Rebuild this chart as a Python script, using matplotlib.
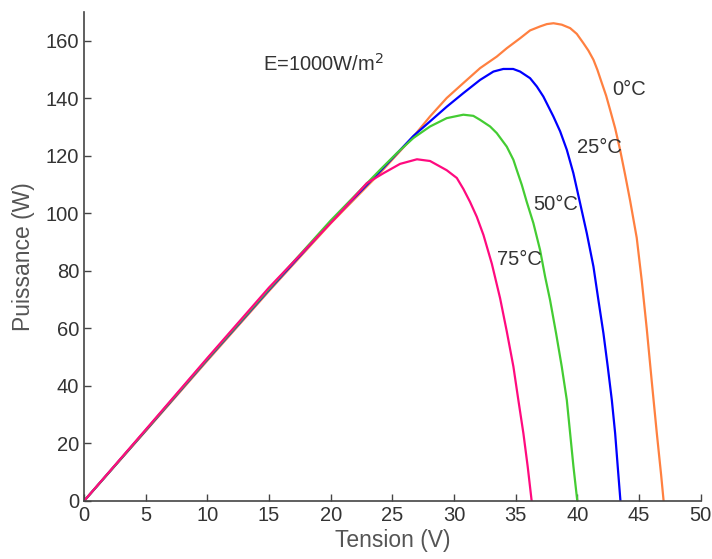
import matplotlib
matplotlib.use('Agg')
import matplotlib.pyplot as plt

# P-V curves of the PV module, E = 1000 W/m2, four cell temperatures
v_0 = [0, 5, 10, 15, 20, 24, 26.71, 28.06, 29.41, 30.76, 32.12, 33.47, 34.28, 35.37,
       36.17, 36.99, 37.53, 38.07, 38.74, 39.42, 39.96, 40.49, 40.90, 41.31, 41.63,
       41.99, 42.34, 42.66, 43.07, 43.47, 43.88, 44.28, 44.55, 44.82, 45.23, 45.63,
       46.04, 46.45, 46.80, 47.0]
p_0 = [0, 24.3, 48.8, 73.0, 96.5, 114.0, 126.7, 133.7, 140.1, 145.3, 150.5, 154.5, 157.4, 160.9,
       163.6, 165.0, 165.8, 166.1, 165.6, 164.4, 162.4, 159.2, 156.6, 153.4, 149.9,
       145.3, 140.9, 136.0, 129.6, 122.1, 113.4, 104.5, 98.0, 91.5, 76.5, 60.0,
       41.5, 23.5, 9.0, 0]

v_25 = [0, 5, 10, 15, 20, 24, 26.71, 29.42, 30.76, 32.12, 33.2, 34.0, 34.8, 35.36,
        36.17, 36.72, 37.25, 38.06, 38.61, 39.15, 39.68, 40.23, 40.77, 41.31, 41.71,
        42.12, 42.47, 42.80, 43.07, 43.28, 43.5]
p_25 = [0, 24.5, 49.2, 73.4, 97.0, 114.6, 126.9, 137.1, 141.8, 146.4, 149.3, 150.2, 150.2, 149.3,
        147.0, 144.1, 140.6, 133.7, 128.5, 122.1, 114.0, 103.5, 93.1, 81.5, 69.9,
        58.3, 46.7, 35.1, 23.5, 11.9, 0]

v_50 = [0, 5, 10, 15, 20, 24, 25.36, 26.71, 28.06, 29.41, 30.76, 31.57, 32.12, 32.93,
        33.47, 34.28, 34.82, 35.09, 35.5, 35.90, 36.44, 36.98, 37.39, 37.79, 38.28,
        38.74, 39.15, 39.42, 39.69, 40.0]
p_50 = [0, 24.6, 49.4, 73.7, 97.5, 115.1, 120.9, 126.2, 130.2, 133.1, 134.3, 133.9, 132.5, 130.2,
        127.9, 123.2, 118.6, 115.1, 109.9, 104.0, 96.6, 87.3, 78.0, 69.9, 58.3,
        46.7, 35.1, 23.5, 11.9, 0]

v_75 = [0, 5, 10, 15, 20.5, 22.93, 24.3, 25.63, 27.0, 28.06, 29.41, 30.23, 30.76, 31.3,
        31.85, 32.39, 33.07, 33.74, 34.28, 34.82, 35.22, 35.63, 35.98, 36.3]
p_75 = [0, 24.8, 49.7, 74.2, 98.9, 110.5, 114.0, 117.2, 118.8, 118.2, 115.0, 112.3, 108.5, 104.0,
        98.8, 92.5, 82.5, 70.5, 59.0, 46.7, 35.1, 23.5, 11.9, 0]

labels = ['0°C', '25°C', '50°C', '75°C']
colors = ['#FF8040', '#0000FF', '#44CC33', '#FF0A7F']

plt.rcParams['font.family'] = ['Liberation Sans', 'DejaVu Sans']
txt = '#333333'

fig = plt.figure(figsize=(7.12, 5.59), dpi=100)
ax = fig.add_axes([0.118, 0.1038, 0.866, 0.8747])

for v, p, c in zip([v_0, v_25, v_50, v_75], [p_0, p_25, p_50, p_75], colors):
    ax.plot(v, p, color=c, linewidth=1.6)

ax.set_xlim(0, 50)
ax.set_ylim(0, 170)
ax.set_xticks(range(0, 51, 5))
ax.set_yticks(range(0, 161, 20))

for side in ['top', 'right']:
    ax.spines[side].set_visible(False)
for side in ['left', 'bottom']:
    ax.spines[side].set_color('#444444')
    ax.spines[side].set_linewidth(1.2)
ax.tick_params(direction='in', length=5, width=1, color='#444444',
               labelsize=14.5, labelcolor=txt)

ax.set_xlabel('Tension (V)', fontsize=16.5, color='#555555', labelpad=3)
ax.set_ylabel('Puissance (W)', fontsize=16.5, color='#555555', labelpad=8)

# curve labels
pos = [(42.8, 143), (39.95, 122.8), (36.4, 103), (33.5, 83.8)]
for (x, y), s in zip(pos, labels):
    ax.text(x, y, s, fontsize=14.5, color=txt, va='center', ha='left')
ax.text(14.5, 152, 'E=1000W/m$^2$', fontsize=14.5, color=txt, va='center', ha='left')

fig.savefig('out.png', dpi=100, facecolor='white')
